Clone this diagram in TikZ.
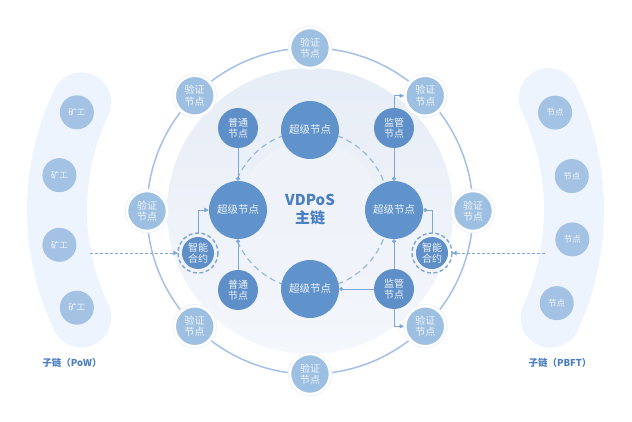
\documentclass[tikz,border=0pt]{standalone}
\usepackage{fontspec}
\setmainfont{Noto Sans CJK SC}
\usepackage{tikz}
\usetikzlibrary{arrows.meta, calc, positioning}

\definecolor{ringblue}{HTML}{A3C0E6}
\definecolor{diskgray}{HTML}{E7EDF6}
\definecolor{diskpale}{HTML}{F4F7FC}
\definecolor{superblue}{HTML}{6093CC}
\definecolor{plainblue}{HTML}{5F8FC8}
\definecolor{veriblue}{HTML}{9DBFE2}
\definecolor{minerblue}{HTML}{A4C2E4}
\definecolor{bandblue}{HTML}{EEF4FD}
\definecolor{textblue}{HTML}{4A7EC2}
\definecolor{linkblue}{HTML}{7FA6D8}

\tikzset{
  supernode/.style={circle, fill=superblue, minimum size=58pt, inner sep=0pt,
    text=white!90!superblue, font=\fontsize{10.5}{12}\selectfont},
  plainnode/.style={circle, fill=plainblue, minimum size=40pt, inner sep=0pt,
    align=center, text=white!90!plainblue, font=\fontsize{10}{11.5}\selectfont},
  verinode/.style={circle, fill=veriblue, draw=white, line width=2.5pt,
    preaction={draw=diskgray!70!white, line width=4.5pt},
    minimum size=40pt, inner sep=0pt, align=center,
    text=white!88!veriblue, font=\fontsize{10}{11.5}\selectfont},
  contractnode/.style={circle, fill=plainblue, minimum size=32pt, inner sep=0pt,
    align=center, text=white!90!plainblue, font=\fontsize{10}{11.5}\selectfont},
  minernode/.style={circle, fill=minerblue, minimum size=34pt, inner sep=0pt,
    text=white!88!minerblue, font=\fontsize{8.5}{10}\selectfont},
  link/.style={draw=linkblue, line width=0.8pt},
  dottip/.style={-{Circle[length=4pt]}},
  tritip/.style={-{Triangle[length=4.5pt, width=4.5pt]}}
}

\begin{document}
\begin{tikzpicture}[x=1pt, y=-1pt]
  \useasboundingbox (0,0) rectangle (632,422);

  % Side chains
  \draw[bandblue, line width=60pt, line cap=round]
    (307,210) ++(154.5:250) arc (154.5:205.5:250);
  \draw[bandblue, line width=60pt, line cap=round]
    (314,210) ++(-25.5:260) arc (-25.5:24.5:260);
  \foreach \a [count=\i] in {203,188,172,157}
    \node[minernode] (miner\i) at ($(307,210)+(\a:250)$) {矿工};
  \foreach \a [count=\i] in {-22,-7.5,6.5,21}
    \node[minernode] (pbft\i) at ($(314,210)+(\a:260)$) {节点};
  \node[font=\bfseries\fontsize{9.5}{11}\selectfont, text=textblue] (powlabel) at (72,363) {子链（PoW）};
  \node[font=\bfseries\fontsize{9.5}{11}\selectfont, text=textblue] (pbftlabel) at (560,363) {子链（PBFT）};

  % Main chain disk
  \shade[top color=diskgray, bottom color=diskpale] (310,211) circle (143);
  \fill[diskgray!60!white, opacity=0.6] (310,211) circle (70);
  \draw[ringblue, line width=1.5pt] (310,211) circle (163);
  \draw[linkblue!80, line width=1.2pt, dash pattern=on 6pt off 4pt] (310,210) circle (79);
  \node[font=\bfseries\fontsize{15}{18}\selectfont, text=textblue, align=center] (core) at (310,210) {VDPoS\\主链};

  % Verification nodes on the ring
  \foreach \a/\n in {-90/t, -45/tr, 0/r, 45/br, 90/b, 135/bl, 180/l, 225/tl}
    \node[verinode] (ver-\n) at ($(310,211)+(\a:163)$) {验证\\节点};

  % Super nodes
  \node[supernode] (sup-t) at (310,130) {超级节点};
  \node[supernode] (sup-l) at (238,210) {超级节点};
  \node[supernode] (sup-r) at (394,210) {超级节点};
  \node[supernode] (sup-b) at (310,289) {超级节点};

  % Plain, supervisory and contract nodes
  \node[plainnode] (pt-t) at (238,128) {普通\\节点};
  \node[plainnode] (pt-b) at (238,290) {普通\\节点};
  \node[plainnode] (jg-t) at (394,128) {监管\\节点};
  \node[plainnode] (jg-b) at (394,289) {监管\\节点};
  \node[contractnode] (ct-l) at (198,253) {智能\\合约};
  \node[contractnode] (ct-r) at (432,253) {智能\\合约};
  \draw[plainblue!80, line width=1.4pt, dash pattern=on 4pt off 2.5pt] (ct-l) circle (20);
  \draw[plainblue!80, line width=1.4pt, dash pattern=on 4pt off 2.5pt] (ct-r) circle (20);

  % Connectors
  \draw[link, dottip] (pt-t) -- (sup-l);
  \draw[link, dottip] (pt-b) -- (sup-l);
  \draw[link, dottip] (jg-t) -- (sup-r);
  \draw[link, dottip] (jg-b.north) -- (sup-r);
  \draw[link, dottip] (jg-b) -- (sup-b);
  \draw[link, tritip] (jg-t.north) |- (ver-tr);
  \draw[link, tritip] (jg-b.south) |- (ver-br);
  \draw[link, tritip] ($(ct-l.north)+(0,-4)$) |- (sup-l);
  \draw[link, dottip] ($(ct-r.north)+(0,-4)$) |- (sup-r);

  % Links from side chains
  \coordinate (powend) at (90,253);
  \coordinate (pbftend) at (545,253);
  \draw[link, tritip, dash pattern=on 3pt off 2pt] (powend) -- ($(ct-l.west)+(-4,0)$);
  \draw[link, tritip, dash pattern=on 3pt off 2pt] (pbftend) -- ($(ct-r.east)+(4,0)$);
\end{tikzpicture}
\end{document}
